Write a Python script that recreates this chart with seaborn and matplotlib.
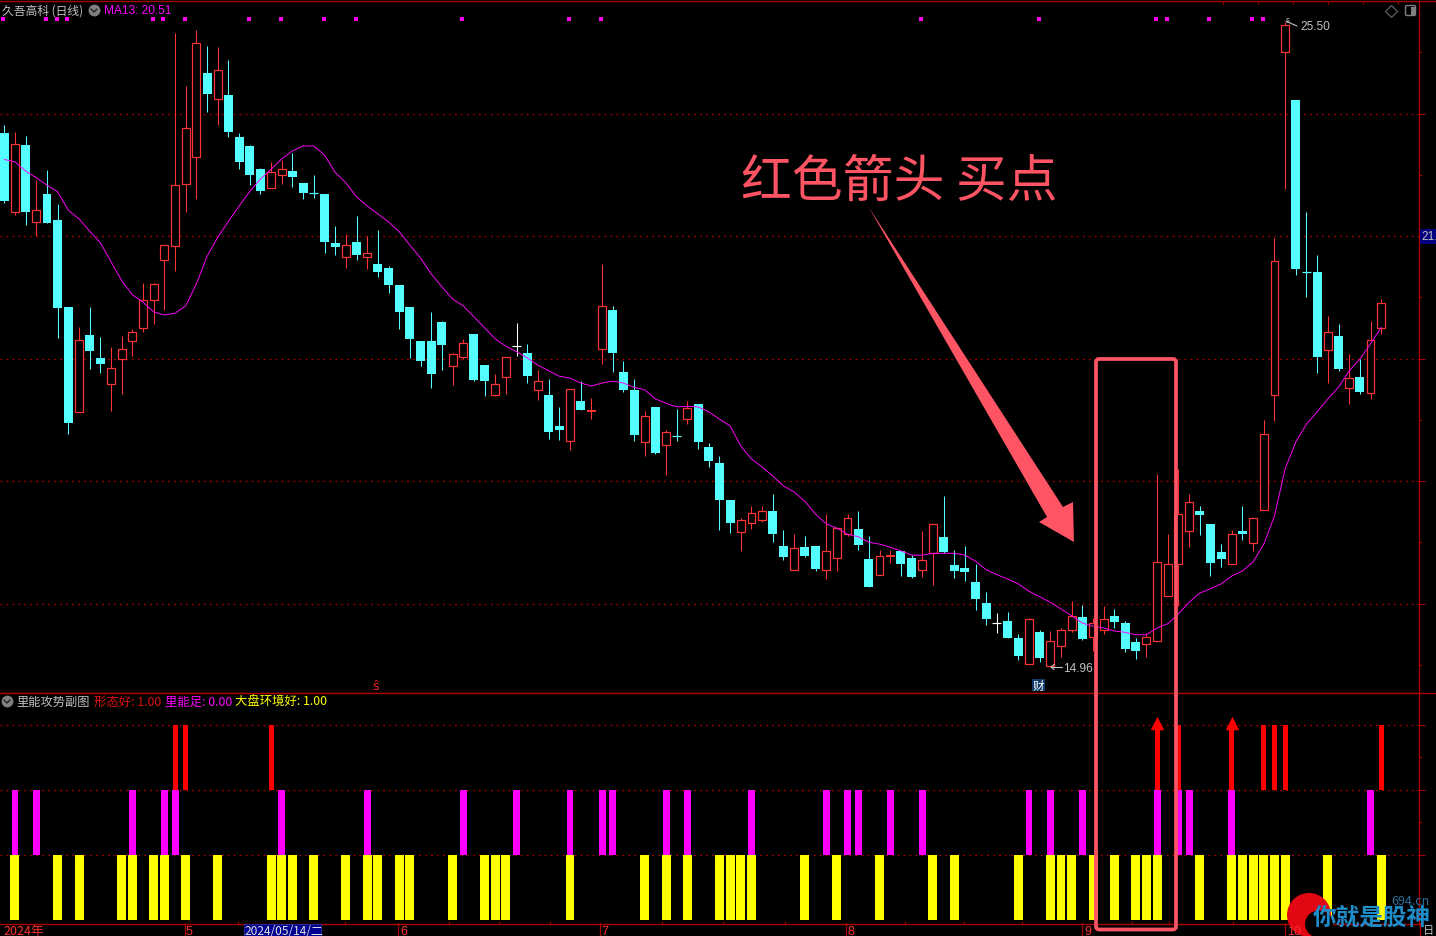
import numpy as np
import pandas as pd
import matplotlib
matplotlib.use("Agg")
import matplotlib.pyplot as plt
import seaborn as sns
from matplotlib.lines import Line2D
from matplotlib.patches import Polygon, Rectangle, FancyBboxPatch, Ellipse, Circle
from matplotlib.transforms import Affine2D, blended_transform_factory

opens = [23.68,22.40,23.49,22.23,22.69,22.26,20.84,19.13,20.38,20.01,19.59,20.00,20.29,20.50,20.96,21.61,21.84,22.85,23.29,24.66,
         24.23,24.30,23.62,23.47,23.09,22.79,23.00,23.06,22.87,22.70,22.69,21.89,21.66,21.90,21.66,21.54,21.48,21.20,20.84,20.29,
         20.29,20.60,19.87,20.03,20.40,19.89,19.41,19.70,20.20,20.09,19.49,19.40,18.90,18.66,19.31,19.13,20.16,20.79,19.78,19.49,
         18.63,19.21,18.58,18.75,19.02,19.26,18.55,18.29,17.69,17.17,17.32,17.37,17.51,16.94,16.54,16.92,16.94,16.55,16.75,17.14,
         17.22,16.73,16.47,16.76,16.85,16.74,16.54,16.83,17.09,16.63,16.58,16.35,16.01,15.68,15.71,15.44,15.02,15.53,14.98,15.31,
         15.56,15.78,15.46,15.56,15.80,15.68,15.37,15.34,15.38,16.13,16.65,17.19,17.51,17.30,16.84,16.65,17.18,16.98,17.52,19.41,
         25.00,24.22,21.43,21.41,20.14,20.37,19.52,19.70,19.44,20.50]
highs = [23.81,23.70,23.63,22.91,23.08,22.52,20.84,20.51,20.84,20.35,20.19,20.37,20.48,21.23,21.23,21.85,25.31,24.45,25.36,25.10,
         25.09,24.87,23.68,23.49,23.11,23.21,23.24,23.36,22.87,23.00,22.69,22.16,22.03,22.33,22.00,22.10,21.51,21.20,20.84,20.29,
         20.76,20.61,20.09,20.32,20.40,19.89,19.75,20.02,20.58,20.24,19.81,19.67,19.21,19.50,19.63,19.36,21.54,20.86,19.96,19.67,
         19.14,19.21,18.83,19.18,19.31,19.26,18.62,18.41,17.69,17.40,17.59,17.59,17.79,17.20,17.13,17.10,16.94,17.46,17.23,17.46,
         17.51,17.10,16.87,16.87,16.86,16.79,17.18,17.29,17.76,16.87,16.94,16.64,16.19,15.84,15.86,15.50,15.76,15.57,15.55,15.60,
         16.04,15.98,15.77,15.96,15.91,15.71,15.44,15.52,18.11,17.13,18.20,17.79,17.59,17.30,16.97,17.20,17.59,17.39,19.00,21.97,
         25.50,24.22,22.39,21.69,20.69,20.56,20.07,19.99,20.61,20.97]
lows = [22.54,22.34,22.18,22.00,22.21,20.33,18.77,19.13,19.83,19.76,19.14,19.42,20.04,20.44,20.56,20.80,21.43,22.40,22.60,24.02,
        23.81,23.62,23.09,22.83,22.69,22.79,22.85,22.80,22.60,22.62,21.72,21.69,21.48,21.61,21.46,21.33,21.07,20.48,20.01,19.88,
        19.52,19.81,19.57,19.99,19.63,19.39,19.39,19.42,20.04,19.60,19.32,18.69,18.67,18.51,19.16,19.01,19.91,19.78,19.45,18.65,
        18.41,18.44,18.10,18.65,18.93,18.52,18.23,17.20,17.15,16.86,17.22,17.33,17.00,16.71,16.54,16.76,16.53,16.40,16.53,17.10,
        16.87,16.27,16.47,16.66,16.45,16.42,16.43,16.30,16.82,16.42,16.37,15.89,15.65,15.52,15.44,15.08,15.02,15.04,14.96,15.13,
        15.53,15.40,15.22,15.50,15.60,15.21,15.09,15.13,15.38,16.13,15.96,16.92,17.12,16.45,16.60,16.65,17.04,16.86,17.52,18.98,
        22.77,21.36,21.00,19.76,19.60,19.80,19.26,19.42,19.34,20.40]
closes = [22.57,23.50,22.40,22.42,22.21,20.82,18.95,20.31,20.12,19.91,19.84,20.15,20.44,20.96,21.21,21.85,22.84,23.76,25.15,24.32,
          24.71,23.70,23.21,23.00,22.73,23.04,23.09,22.96,22.70,22.69,21.90,21.82,21.86,21.69,21.72,21.41,21.20,20.76,20.32,19.96,
          19.75,20.22,20.08,20.25,19.65,19.63,19.58,20.02,20.20,19.71,19.64,18.80,18.83,19.50,19.16,19.16,20.85,20.09,19.49,18.75,
          19.06,18.46,18.80,18.73,19.20,18.64,18.33,17.69,17.31,17.37,17.47,17.51,17.13,16.76,16.90,16.78,16.56,16.85,17.23,17.39,
          16.95,16.27,16.77,16.79,16.64,16.43,16.71,17.29,16.84,16.53,16.51,16.07,15.75,15.68,15.44,15.14,15.74,15.11,15.38,15.56,
          15.79,15.42,15.68,15.74,15.70,15.26,15.22,15.46,16.67,16.64,17.46,17.65,17.45,16.66,16.73,17.13,17.13,17.39,18.76,21.60,
          25.44,21.46,21.41,20.02,20.43,19.83,19.69,19.45,20.31,20.90]
ma13 = [23.25,23.21,23.06,22.95,22.83,22.72,22.42,22.28,22.08,21.89,21.58,21.27,21.04,20.92,20.76,20.71,20.74,20.86,21.22,21.67,
        21.98,22.24,22.49,22.73,22.93,23.09,23.26,23.39,23.47,23.47,23.32,23.04,22.87,22.64,22.49,22.36,22.23,22.07,21.85,21.64,
        21.38,21.17,20.97,20.86,20.68,20.50,20.32,20.20,20.11,20.01,19.89,19.80,19.71,19.68,19.60,19.55,19.60,19.63,19.60,19.53,
        19.49,19.34,19.27,19.21,19.22,19.21,19.13,19.01,18.90,18.57,18.36,18.23,18.08,17.92,17.82,17.67,17.46,17.30,17.23,17.13,
        17.09,17.00,16.97,16.92,16.86,16.79,16.79,16.82,16.82,16.82,16.79,16.69,16.55,16.47,16.40,16.32,16.20,16.11,16.02,15.91,
        15.80,15.68,15.63,15.60,15.55,15.53,15.49,15.49,15.60,15.67,15.83,16.02,16.17,16.24,16.32,16.45,16.53,16.68,16.97,17.43,
        18.20,18.64,18.93,19.13,19.34,19.53,19.80,19.99,20.24,20.51]
assert len(opens) == len(highs) == len(lows) == len(closes) == len(ma13) == 130

signal_days = [0,4,5,6,14,15,17,23,26,30,33,43,53,56,86,97,108,109,113,117,118]
yellow_days = [1,5,7,11,12,14,15,17,20,25,26,27,29,32,34,35,37,38,42,45,46,47,53,60,62,64,67,68,69,70,75,78,82,87,89,95,98,99,100,102,104,106,107,108,112,115,116,117,118,119,120,124,129]
magenta_days = [1,3,12,15,16,26,34,43,48,53,56,57,62,64,70,77,79,80,83,86,96,98,101,108,110,111,115,128]
red_days = [16,17,25,108,110,115,118,119,120,129]
arrow_days = [108,115]
month_labels = ["2024年","5","6","7","8","9","10"]

RED = "#FF3232"; CYAN = "#54FFFF"; MAG = "#FF00FF"; GRID = "#A80000"; GRAY = "#C0C0C0"; SALMON = "#FF5464"

sns.set_theme(style="dark", rc={"figure.facecolor": "black", "axes.facecolor": "black", "savefig.facecolor": "black"})
plt.rcParams["font.family"] = ["Noto Sans CJK SC", "DejaVu Sans"]

W, H = 1436, 937
fig = plt.figure(figsize=(W / 100, H / 100), dpi=100)
T = Affine2D().scale(1, -1).translate(0, H)
ax = fig.add_axes([0, 1 - 693.5 / H, 1419 / W, 691.3 / H])
ax2 = fig.add_axes([0, 1 - 924.8 / H, 1419 / W, 231.3 / H])
px = 0.72

days = np.arange(len(opens))
for i in days:
    o, h, l, c = opens[i], highs[i], lows[i], closes[i]
    if o == c:
        col = "white"
    else:
        col = RED if c > o else CYAN
    top, bot = max(o, c), min(o, c)
    wick = ax.vlines(i, l, h, color=col, lw=px * 1.05, zorder=2)
    wick.set_snap(True)
    if top - bot <= 0.035:
        tick = ax.hlines((top + bot) / 2, i - 0.42, i + 0.42, color=col, lw=px * (2 if c > o else 1.2), zorder=3)
        tick.set_snap(True)
    elif c > o:
        ax.bar(i, top - bot, bottom=bot, width=0.74, facecolor="black", edgecolor=col, linewidth=px * 1.2, zorder=3)
    else:
        ax.bar(i, top - bot, bottom=bot, width=0.84, color=col, linewidth=0, zorder=3)

sns.lineplot(x=days, y=ma13, ax=ax, color=MAG, lw=px * 0.95, zorder=4, errorbar=None)

dot_tr = blended_transform_factory(ax.transData, ax.transAxes)
ax.scatter(np.array(signal_days) - 0.09, np.full(len(signal_days), 1 - 18.1 / 691.3), s=6, marker="s", color=MAG,
           linewidths=0, transform=dot_tr, zorder=5)

ax.set_xlim(-0.403, 132.54)
ax.set_ylim(14.547, 25.834)
ax.set_yticks([16, 18, 20, 22, 24])
ax.set_yticks([17, 19, 21, 23, 25, 15], minor=True)

def panel(day_list, base, width, color):
    df = pd.DataFrame({"day": day_list, "v": [1.0] * len(day_list)})
    sns.barplot(data=df, x="day", y="v", native_scale=True, width=width, color=color, ax=ax2,
                bottom=base, saturation=1, linewidth=0, errorbar=None, zorder=3)

panel(yellow_days, 0, 0.84, "#FFFF00")
panel(magenta_days, 1, 0.65, MAG)
panel(red_days, 2, 0.47, "#FF0000")
ax2.scatter(arrow_days, [3.03] * len(arrow_days), marker="^", s=95, color="#FF0000", linewidths=0, zorder=4)
ax2.set_xlim(-0.403, 132.54)
ax2.set_ylim(-0.063, 3.495)
ax2.set_yticks([1, 2, 3])
ax2.set_yticks([1.5, 2.5], minor=True)
ax2.set_xlabel(""); ax2.set_ylabel("")

for a in (ax, ax2):
    a.set_xticks([])
    a.grid(axis="y", which="major", color=GRID, lw=px * 1.3, linestyle=(0, (1.4, 3.2)), zorder=1)
    a.grid(axis="x", visible=False)
    a.tick_params(axis="y", which="major", left=False, right=True, labelleft=False, length=4, width=px, color=GRID, direction="out")
    a.tick_params(axis="y", which="minor", left=False, right=True, length=2.5, width=px, color=GRID, direction="out")
    a.spines["left"].set_visible(False)
    for s in ("top", "bottom", "right"):
        a.spines[s].set_visible(True)
        a.spines[s].set_color(GRID)
        a.spines[s].set_linewidth(px * 1.4)

def line(xs, ys, color=GRID, lw=1.0, **kw):
    fig.add_artist(Line2D(xs, ys, transform=T, color=color, lw=lw, **kw))

def text(x, y, s, color=GRAY, size=9, ha="left", **kw):
    fig.text(x, y, s, transform=T, color=color, fontsize=size, ha=ha, va="center", **kw)

# frame pieces outside the axes
line([1419.5, 1419.5], [924, 937])
line([1419, 1436], [693.5, 693.5])
line([1420, 1436], [2, 2])
for tx in [184.5, 398, 600, 846, 1082, 1285]:
    line([tx, tx], [924, 937], lw=0.9)
for tx in [238, 345, 449, 499, 550, 662, 723, 785, 905, 964, 1022, 1132, 1169, 1233]:
    line([tx, tx], [921.5, 924.5], lw=0.7)
for tx in [1223, 1258, 1293, 1328, 1363, 1398]:
    line([tx, tx], [2, 5], lw=0.7)

# headers
text(2, 11, "久吾高科 (日线)", size=8.5)
fig.add_artist(Line2D([94], [11], transform=T, marker="o", ms=8.5, color="#808080", mew=0))
line([91, 94, 97], [10, 13, 10], color="#222222", lw=1)
text(104, 11, "MA13: 20.51", color=MAG, size=8.6, fontfamily=["Liberation Sans", "DejaVu Sans"])
fig.add_artist(Line2D([7], [702], transform=T, marker="o", ms=8.5, color="#808080", mew=0))
line([4, 7, 10], [701, 704, 701], color="#222222", lw=1)
text(16, 702.5, "里能攻势副图", size=8.8)
text(94, 702.5, "形态好: 1.00", color="#E01010", size=8.9)
text(165, 702.5, "里能足: 0.00", color=MAG, size=8.9)
text(235, 702.5, "大盘环境好: 1.00", color="#FFFF00", size=8.9)

# price labels
text(1300, 27.5, "25.50", size=8.6, fontfamily=["Liberation Sans", "DejaVu Sans"])
line([1286, 1290, 1297], [22, 24, 27], color=GRAY, lw=0.8)
text(1286, 21, "s", size=6)
text(1063, 669.5, "14.96", size=8.6, fontfamily=["Liberation Sans", "DejaVu Sans"])
line([1051, 1062], [668, 668], color=GRAY, lw=0.8)
line([1054, 1051, 1054], [665.5, 668, 670.5], color=GRAY, lw=0.8)
text(376, 687, "ŝ", color="#FF2020", size=9, ha="center", fontfamily=["DejaVu Sans"])
fig.add_artist(Rectangle((1032, 680), 13, 12, transform=T, fc="#103A66", ec="none"))
text(1038.5, 686, "财", color="white", size=8.3, ha="center")

# right side label and icons
fig.add_artist(Rectangle((1420, 230), 16, 15, transform=T, fc="#000080", ec="none"))
text(1421, 237.5, "21.", size=8.6, fontfamily=["Liberation Sans", "DejaVu Sans"])
fig.add_artist(Line2D([1391], [11.5], transform=T, marker="D", ms=6.5, mfc="none", mec="#606060", mew=0.9))
fig.add_artist(FancyBboxPatch((1405.5, 6.5), 10, 10, boxstyle="round,pad=0,rounding_size=1.5", transform=T, fc="black", ec="#808080", lw=1))
fig.add_artist(Rectangle((1411, 7.5), 4, 8, transform=T, fc="#808080", ec="none"))

# time axis labels
text(3, 932, month_labels[0], color="#FF3030", size=9)
for tx, lab in zip([186, 400, 601.5, 848, 1084, 1287], month_labels[1:]):
    text(tx, 932, lab, color="#FF3030", size=9, fontfamily=["Liberation Sans", "DejaVu Sans"])
fig.add_artist(Rectangle((244, 925), 77, 12, transform=T, fc="#000090", ec="#2030A0", lw=0.6))
text(245, 931.5, "2024/05/14/二", color="#E0E0E0", size=8.6)
text(1423, 931, "日", color="#C0C0C0", size=8)

# hand-drawn annotation
text(741, 183, "红色箭头 买点", color=SALMON, size=36.6)
fig.add_artist(Polygon([(868, 207), (1063, 508), (1073, 503), (1074, 543), (1039, 523), (1047, 518)],
                       closed=True, transform=T, fc=SALMON, ec="none"))
fig.add_artist(FancyBboxPatch((1096, 360), 80, 570.5, boxstyle="round,pad=0,rounding_size=3", transform=T,
                              fc="none", ec=SALMON, lw=2.7))

# watermark
fig.add_artist(Circle((1309, 916), 22, transform=T, fc="#E30613", ec="none"))
fig.add_artist(Ellipse((1319, 925), 28, 27, transform=T, fc="black", ec="none"))
text(1313, 918, "你就是股神", color="#1E8CC8", size=17, fontweight="bold")
text(1391, 902, "694.cn", color="#2C6E9E", size=9)

fig.savefig("out.png", dpi=100)
